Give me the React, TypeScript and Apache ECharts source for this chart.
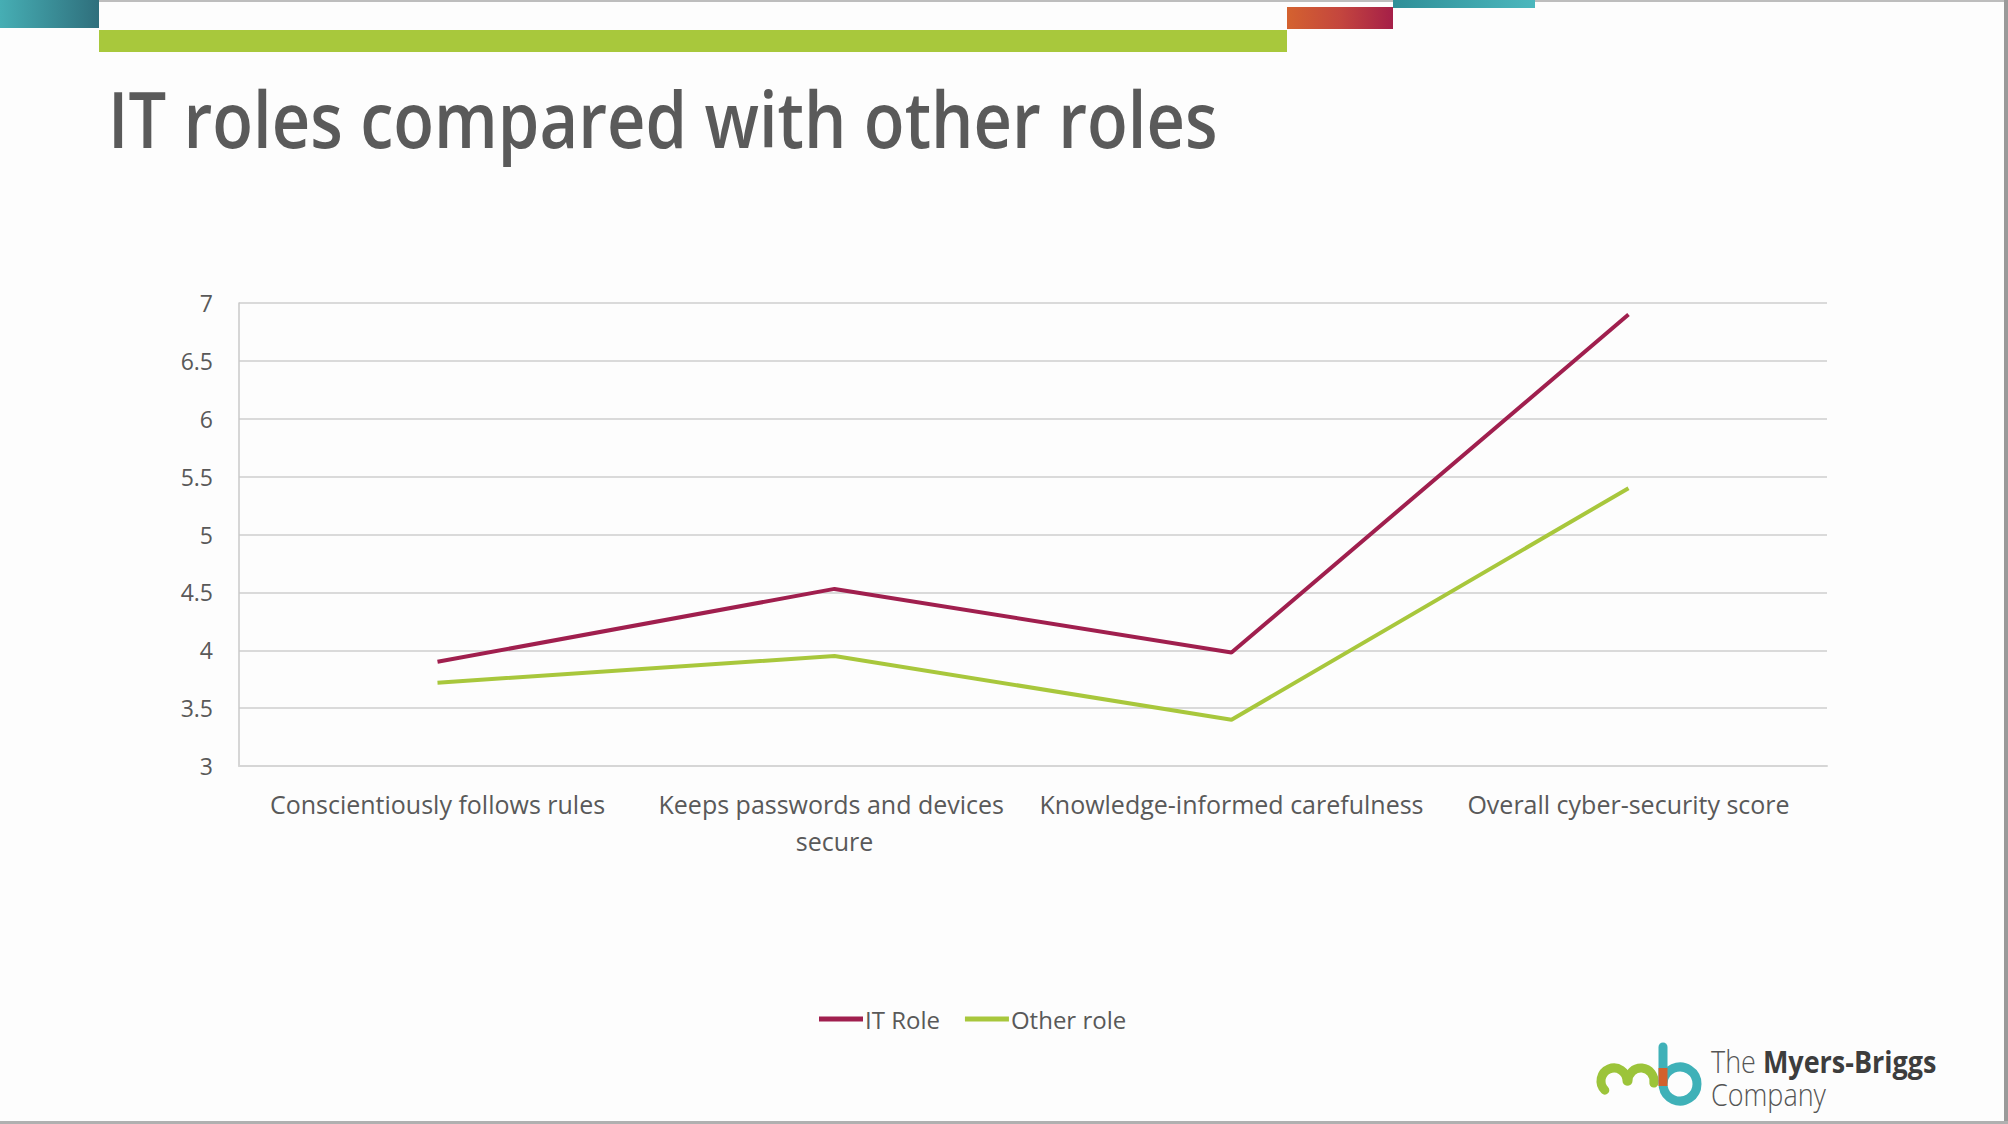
import React, { useEffect, useRef } from "react";
import * as echarts from "echarts";

const categories = [
  "Conscientiously follows rules",
  "Keeps passwords and devices secure",
  "Knowledge-informed carefulness",
  "Overall cyber-security score",
];
const itRole = [3.9, 4.53, 3.98, 6.9];
const otherRole = [3.72, 3.95, 3.4, 5.4];
const seriesNames = ["IT Role", "Other role"];
const yMin = 3;
const yMax = 7;
const yStep = 0.5;
const titleText = "IT roles compared with other roles";

const FONT = "'Open Sans', 'Noto Sans', sans-serif";
const GRAY = "#595959";
const IT_COLOR = "#a01f4e";
const OTHER_COLOR = "#a8c73c";

export default function App() {
  const ref = useRef<HTMLDivElement>(null);
  useEffect(() => {
    if (!ref.current) return;
    const chart = echarts.init(ref.current, undefined, { renderer: "svg" });
    const arcStyle = (color: string) => ({
      stroke: color,
      lineWidth: 9,
      fill: "none",
      lineCap: "round" as const,
    });
    chart.setOption({
      animation: false,
      backgroundColor: "#fdfdfd",
      legend: {
        data: seriesNames,
        left: 814,
        top: 1002,
        icon: "rect",
        itemWidth: 44,
        itemHeight: 5,
        itemGap: 25,
        textStyle: { fontFamily: FONT, fontSize: 24, color: GRAY, padding: [0, 0, 0, -3] },
      },
      grid: { left: 239, right: 181, top: 303, bottom: 358, containLabel: false },
      xAxis: {
        type: "category",
        data: categories,
        boundaryGap: true,
        axisLine: { show: true, lineStyle: { color: "#d6d6d6", width: 2 } },
        axisTick: { show: false },
        axisLabel: {
          fontFamily: FONT,
          fontSize: 25,
          color: GRAY,
          margin: 19,
          interval: 0,
          width: 400,
          overflow: "break",
          lineHeight: 37,
        },
        splitLine: { show: false },
      },
      yAxis: {
        type: "value",
        min: yMin,
        max: yMax,
        interval: yStep,
        axisLine: { show: true, lineStyle: { color: "#c8c8c8", width: 1.5 } },
        axisTick: { show: false },
        axisLabel: { fontFamily: FONT, fontSize: 23, color: GRAY, margin: 26 },
        splitLine: { show: true, lineStyle: { color: "#dadada", width: 2 } },
      },
      series: [
        {
          name: seriesNames[0],
          type: "line",
          data: itRole,
          symbol: "none",
          lineStyle: { color: IT_COLOR, width: 4 },
          itemStyle: { color: IT_COLOR },
        },
        {
          name: seriesNames[1],
          type: "line",
          data: otherRole,
          symbol: "none",
          lineStyle: { color: OTHER_COLOR, width: 4 },
          itemStyle: { color: OTHER_COLOR },
        },
      ],
      graphic: [
        // title
        {
          type: "text",
          x: 108,
          y: 118,
          scaleX: 0.868,
          style: {
            text: titleText,
            fontFamily: FONT,
            fontSize: 77,
            fontWeight: 600,
            fill: "#5a5a5a",
            verticalAlign: "middle",
          },
        },
        // top frame line
        { type: "rect", shape: { x: 0, y: 0, width: 2008, height: 2 }, style: { fill: "#bdbdbd" } },
        // top-left teal block
        {
          type: "rect",
          shape: { x: 0, y: 0, width: 99, height: 28 },
          style: {
            fill: new echarts.graphic.LinearGradient(0, 0, 1, 0, [
              { offset: 0, color: "#46aeb4" },
              { offset: 1, color: "#2f6f7c" },
            ]),
          },
        },
        // green bar
        { type: "rect", shape: { x: 99, y: 30, width: 1188, height: 22 }, style: { fill: "#a8c83c" } },
        // orange-red block
        {
          type: "rect",
          shape: { x: 1287, y: 7, width: 106, height: 22 },
          style: {
            fill: new echarts.graphic.LinearGradient(0, 0, 1, 0, [
              { offset: 0, color: "#d4622f" },
              { offset: 0.5, color: "#c4463e" },
              { offset: 1, color: "#a51f48" },
            ]),
          },
        },
        // thin teal bar
        {
          type: "rect",
          shape: { x: 1393, y: 0, width: 142, height: 8 },
          style: {
            fill: new echarts.graphic.LinearGradient(0, 0, 1, 0, [
              { offset: 0, color: "#2f8f98" },
              { offset: 1, color: "#4bb7bd" },
            ]),
          },
        },
        // right and bottom frame edges
        { type: "rect", shape: { x: 2004, y: 0, width: 4, height: 1124 }, style: { fill: "#9a9a9a" } },
        { type: "rect", shape: { x: 0, y: 1121, width: 2008, height: 3 }, style: { fill: "#b0b0b0" } },
        // logo: green "m"
        {
          type: "arc",
          shape: { cx: 1614, cy: 1081, r: 13, startAngle: Math.PI * 0.75, endAngle: Math.PI * 2, clockwise: true },
          style: arcStyle("#9cc43a"),
        },
        {
          type: "arc",
          shape: { cx: 1641, cy: 1081, r: 13, startAngle: Math.PI, endAngle: Math.PI * 2.05, clockwise: true },
          style: arcStyle("#9cc43a"),
        },
        // logo: teal "b" stem and bowl
        {
          type: "line",
          shape: { x1: 1663, y1: 1047, x2: 1663, y2: 1084 },
          style: { stroke: "#3fb1b8", lineWidth: 9, lineCap: "round" },
        },
        {
          type: "arc",
          shape: { cx: 1680, cy: 1084, r: 17, startAngle: Math.PI * 1.05, endAngle: Math.PI * 2.95, clockwise: true },
          style: arcStyle("#3fb1b8"),
        },
        // orange junction
        {
          type: "line",
          shape: { x1: 1663, y1: 1068, x2: 1663, y2: 1086 },
          style: { stroke: "#d2612c", lineWidth: 9, lineCap: "butt" },
        },
        // logo text
        {
          type: "text",
          x: 1711,
          y: 1045,
          scaleX: 0.87,
          style: {
            text: "{a|The }{b|Myers-Briggs}\n{a|Company}",
            rich: {
              a: { fontFamily: FONT, fontSize: 31, fontWeight: 300, fill: "#555555", lineHeight: 33 },
              b: { fontFamily: FONT, fontSize: 31, fontWeight: "bold", fill: "#3d3d3d", lineHeight: 33 },
            },
            verticalAlign: "top",
          },
        },
      ],
    });
    return () => chart.dispose();
  }, []);
  return (
    <div
      ref={ref}
      style={{ position: "fixed", left: 0, top: 0, width: 2008, height: 1124 }}
    />
  );
}
